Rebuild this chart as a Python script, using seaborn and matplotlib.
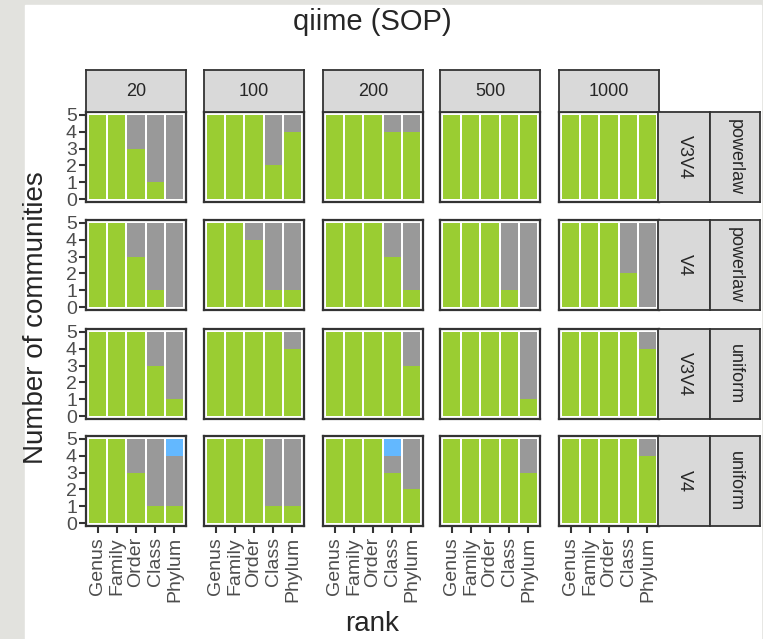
import matplotlib
matplotlib.use("Agg")
import matplotlib.pyplot as plt
from matplotlib.patches import Rectangle
import pandas as pd
import seaborn as sns

# ---- data ----
ranks = ["Genus", "Family", "Order", "Class", "Phylum"]
sizes = ["20", "100", "200", "500", "1000"]
regions = ["V3V4", "V4", "V3V4", "V4"]
models = ["powerlaw", "powerlaw", "uniform", "uniform"]
n_total = 5

# green part (per size, per rank)
v3v4_powerlaw_ok = [[5, 5, 3, 1, 0], [5, 5, 5, 2, 4], [5, 5, 5, 4, 4], [5, 5, 5, 5, 5], [5, 5, 5, 5, 5]]
v4_powerlaw_ok = [[5, 5, 3, 1, 0], [5, 5, 4, 1, 1], [5, 5, 5, 3, 1], [5, 5, 5, 1, 0], [5, 5, 5, 2, 0]]
v3v4_uniform_ok = [[5, 5, 5, 3, 1], [5, 5, 5, 5, 4], [5, 5, 5, 5, 3], [5, 5, 5, 5, 1], [5, 5, 5, 5, 4]]
v4_uniform_ok = [[5, 5, 3, 1, 1], [5, 5, 5, 1, 1], [5, 5, 5, 3, 2], [5, 5, 5, 5, 3], [5, 5, 5, 5, 4]]
# blue part (only in V4 uniform)
v4_uniform_blue = [[0, 0, 0, 0, 1], [0, 0, 0, 0, 0], [0, 0, 0, 1, 0], [0, 0, 0, 0, 0], [0, 0, 0, 0, 0]]
no_blue = [[0] * 5 for _ in range(5)]

ok_rows = [v3v4_powerlaw_ok, v4_powerlaw_ok, v3v4_uniform_ok, v4_uniform_ok]
blue_rows = [no_blue, no_blue, no_blue, v4_uniform_blue]

green = "#9ACD32"
grey = "#999999"
blue = "#63B8FF"
dark = "#333333"

recs = []
for r in range(4):
    for c, s in enumerate(sizes):
        for k, rk in enumerate(ranks):
            ok = ok_rows[r][c][k]
            bl = blue_rows[r][c][k]
            wrong = n_total - ok - bl
            recs.append(dict(row=r, size=s, rank=rk, ok=ok, wrong=wrong, blue=bl))
df = pd.DataFrame(recs)
# cumulative heights for layered drawing; zero where a segment is empty
df["h_blue"] = (df.ok + df.wrong + df.blue).where(df.blue > 0, 0)
df["h_grey"] = (df.ok + df.wrong).where(df.wrong > 0, 0)
df["h_green"] = df.ok

sns.set_style("white")
plt.rcParams["font.family"] = ["Liberation Sans", "DejaVu Sans"]

W, H = 763, 639
fig = plt.figure(figsize=(W / 100, H / 100), dpi=100, facecolor="#E2E2DE")
fig.patches.append(Rectangle((25 / W, 0), (761 - 25) / W, (H - 5) / H,
                             transform=fig.transFigure, color="white", zorder=-10))


def box(x0, y0, w, h):
    return [x0 / W, (H - y0 - h) / H, w / W, h / H]


col_left = [86, 204, 323, 440, 559]
pw = 100
row_top = [112, 220, 329, 436]
ph = 90

for r in range(4):
    for c, s in enumerate(sizes):
        ax = fig.add_axes(box(col_left[c], row_top[r], pw, ph))
        sub = df[(df.row == r) & (df["size"] == s)]
        for col, hcol in [(blue, "h_blue"), (grey, "h_grey"), (green, "h_green")]:
            sns.barplot(data=sub, x="rank", y=hcol, order=ranks, color=col, saturation=1,
                        width=0.9, linewidth=0, errorbar=None, ax=ax)
        ax.set_xlim(-0.6, 4.6)
        ax.set_ylim(-0.15, 5.15)
        ax.set_xlabel("")
        ax.set_ylabel("")
        ax.set_yticks(range(6))
        for sp in ax.spines.values():
            sp.set_color(dark)
            sp.set_linewidth(1.6)
        ax.tick_params(colors=dark, width=1.5, length=5, labelsize=14,
                       labelcolor="#4D4D4D", pad=1.5)
        if c == 0:
            ax.tick_params(axis="y", left=True)
        else:
            ax.tick_params(axis="y", left=False, labelleft=False)
        if r == 3:
            ax.tick_params(axis="x", bottom=True, labelrotation=90, pad=3)
        else:
            ax.tick_params(axis="x", bottom=False, labelbottom=False)

        # top strips
        if r == 0:
            st = fig.add_axes(box(col_left[c], 70, pw, 42))
            st.set_facecolor("#D9D9D9")
            st.set_xticks([])
            st.set_yticks([])
            for sp in st.spines.values():
                sp.set_color(dark)
                sp.set_linewidth(1.3)
            st.text(0.5, 0.5, s, ha="center", va="center", fontsize=13, color="#262626",
                    transform=st.transAxes)

    # right strips
    for x0, w, lab in [(658, 52, regions[r]), (710, 50, models[r])]:
        st = fig.add_axes(box(x0, row_top[r], w, ph))
        st.set_facecolor("#D9D9D9")
        st.set_xticks([])
        st.set_yticks([])
        for sp in st.spines.values():
            sp.set_color(dark)
            sp.set_linewidth(1.3)
        st.text(0.5, 0.5, lab, ha="center", va="center", fontsize=13, rotation=-90,
                color="#262626", transform=st.transAxes)

fig.text(372 / W, 1 - 22 / H, "qiime (SOP)", ha="center", va="center", fontsize=21)
fig.text(36 / W, 1 - 318 / H, "Number of communities", ha="center", va="center",
         rotation=90, fontsize=20)
fig.text(372 / W, 1 - 624 / H, "rank", ha="center", va="center", fontsize=20)

fig.savefig("out.png", dpi=100, facecolor=fig.get_facecolor())
